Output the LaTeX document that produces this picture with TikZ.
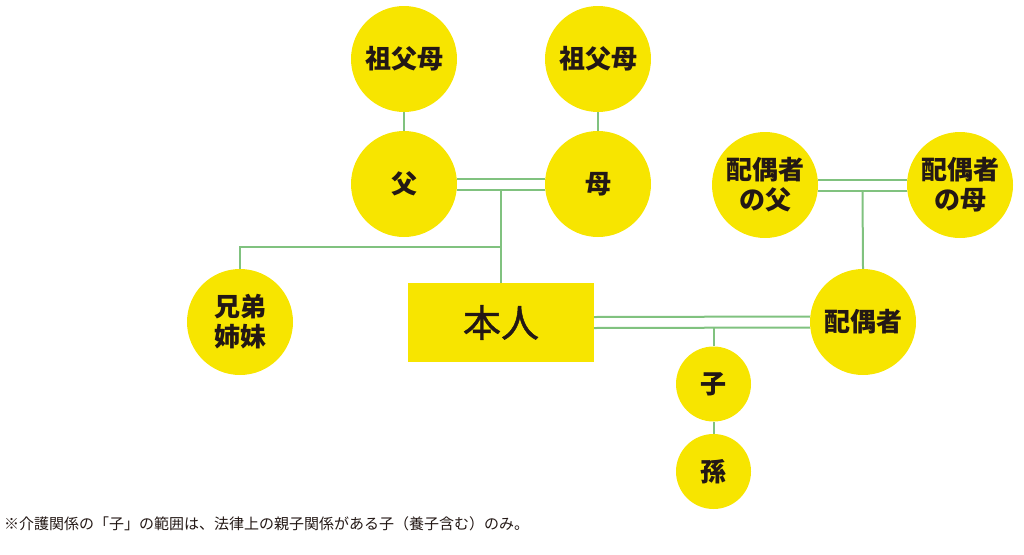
\documentclass[tikz,border=0pt]{standalone}
\usepackage{fontspec}
\setmainfont{Noto Sans CJK JP}
\newfontfamily\selffont{Noto Sans CJK JP}[FakeBold=1.2]
\usepackage{xcolor}
\usepackage{tikz}
\definecolor{kyellow}{HTML}{F7E500}
\definecolor{kgreen}{HTML}{80C27F}
\definecolor{kink}{HTML}{231815}

\begin{document}
\begin{tikzpicture}[
  x=1pt, y=-1pt,
  kin/.style={circle, fill=kyellow, inner sep=0, minimum size=106pt,
    text=kink, align=center, font=\fontsize{26}{30}\selectfont\bfseries},
  kinsm/.style={kin, minimum size=75pt},
  self/.style={fill=kyellow, inner sep=0, minimum width=186pt, minimum height=79pt,
    text=kink, font=\selffont\fontsize{38}{40}\selectfont},
  link/.style={draw=kgreen, line width=2pt},
]
\useasboundingbox (0,0) rectangle (1024,554);

\node [kin] (gfl) at (404,59) {祖父母};
\node [kin] (gfr) at (598,59) {祖父母};
\node [kin] (fa) at (404,184) {父};
\node [kin] (mo) at (598,184) {母};
\node [kin] (sib) at (240,322) {兄弟\\姉妹};
\node [self] (me) at (501,322.5) {本人};
\node [kin] (sf) at (765,185) {配偶者\\の父};
\node [kin] (sm) at (960,185) {配偶者\\の母};
\node [kin] (sp) at (863,322) {配偶者};
\node [kinsm] (ko) at (713.5,384) {子};
\node [kinsm] (mago) at (713.5,471.5) {孫};

% parents
\draw [link] (gfl) -- (fa);
\draw [link] (gfr) -- (mo);
\draw [link] ([yshift=5.5pt]fa.east) -- ([yshift=5.5pt]mo.west);
\draw [link] ([yshift=-5.5pt]fa.east) -- coordinate [midway] (pm) ([yshift=-5.5pt]mo.west);
\draw [link] (pm) -- (me.north);
\coordinate (br) at (501,247);
\draw [link] (br) -| (sib.north);

% spouse side
\draw [link] ([yshift=5.5pt]sf.east) -- ([yshift=5.5pt]sm.west);
\draw [link] ([yshift=-5.5pt]sf.east) -- coordinate [midway] (sfm) ([yshift=-5.5pt]sm.west);
\draw [link] (sfm) -- (sp.north);
\draw [link] ([yshift=5.5pt]me.east) -- ([yshift=5.5pt]sp.west);
\draw [link] ([yshift=-5.5pt]me.east) coordinate (mc) -- ([yshift=-5.5pt]sp.west);
\draw [link] (ko.north) -- (ko.north |- mc);
\draw [link] (ko) -- (mago);

\node [anchor=west, text=kink, inner sep=0, font=\fontsize{15}{18}\selectfont]
  (note) at (4,524) {※介護関係の「子」の範囲は、法律上の親子関係がある子（養子含む）のみ。};
\end{tikzpicture}
\end{document}
